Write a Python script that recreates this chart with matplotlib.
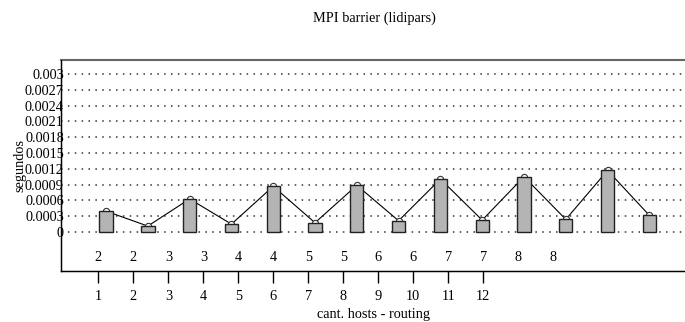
import numpy as np
import matplotlib
matplotlib.use('Agg')
import matplotlib.pyplot as plt

plt.rcParams['font.family'] = ['Liberation Serif', 'DejaVu Serif']
plt.rcParams['font.size'] = 10.3

# data
segundos = [0.000396, 0.000113, 0.000628, 0.000150, 0.000868, 0.000176, 0.000887,
            0.000214, 0.001006, 0.000226, 0.001050, 0.000240, 0.001170, 0.000315]
hosts = ['2', '2', '3', '3', '4', '4', '5', '5', '6', '6', '7', '7', '8', '8']
tick_labels = ['1', '2', '3', '4', '5', '6', '7', '8', '9', '10', '11', '12']
y_ticks = [0, 0.0003, 0.0006, 0.0009, 0.0012, 0.0015, 0.0018, 0.0021, 0.0024, 0.0027, 0.003]
y_labels = ['0', '0.0003', '0.0006', '0.0009', '0.0012', '0.0015', '0.0018',
            '0.0021', '0.0024', '0.0027', '0.003']

fig = plt.figure(figsize=(6.85, 3.22), dpi=100)
ax = fig.add_axes([61/685, 51/322, 625/685, 211/322])

x = np.arange(1, len(segundos) + 1)
ax.plot(x, segundos, color='black', lw=0.8, marker='o', ms=4.5,
        mfc='white', mec='#333333', mew=0.8, zorder=2)
ax.bar(x, segundos, width=0.32, color='#b4b4b4', edgecolor='#222222',
       linewidth=1.0, zorder=3)

ax.set_xlim(-0.077, 14.876)
ax.set_ylim(-0.00074, 0.003266)
ax.set_yticks(y_ticks)
ax.set_yticklabels(y_labels)
ax.tick_params(axis='y', length=0, pad=-2)
ax.set_xticks([])
for yv in y_ticks:
    ax.axhline(yv, color='#333333', lw=1.1, ls=(0, (1, 3.5)), zorder=1)

ax.spines['right'].set_visible(False)
ax.spines['top'].set_color('#666666')
ax.spines['top'].set_linewidth(1.5)
ax.spines['left'].set_linewidth(1.0)
ax.spines['bottom'].set_linewidth(1.0)
ax.set_ylabel('segundos', labelpad=-1)

# second x scale for the tick labels (different spacing from the bars)
ax2 = ax.twiny()
ax2.set_xlim(-0.066, 17.79)
ticks = np.arange(1, len(tick_labels) + 1)
ax2.set_xticks(ticks)
ax2.set_xticklabels(tick_labels)
ax2.xaxis.set_ticks_position('bottom')
ax2.xaxis.set_label_position('bottom')
ax2.tick_params(axis='x', direction='out', length=8.6, width=1.0, pad=5)
ax2.spines['right'].set_visible(False)
ax2.spines['top'].set_visible(False)
ax2.set_xlabel('cant. hosts - routing', labelpad=4)

for i, h in enumerate(hosts):
    ax2.text(i + 1, 0.066, h, transform=ax2.get_xaxis_transform(),
             ha='center', va='center')

fig.text(374/685, 1 - 18/322, 'MPI barrier (lidipars)', ha='center', va='center')

fig.savefig('out.png', dpi=100)
